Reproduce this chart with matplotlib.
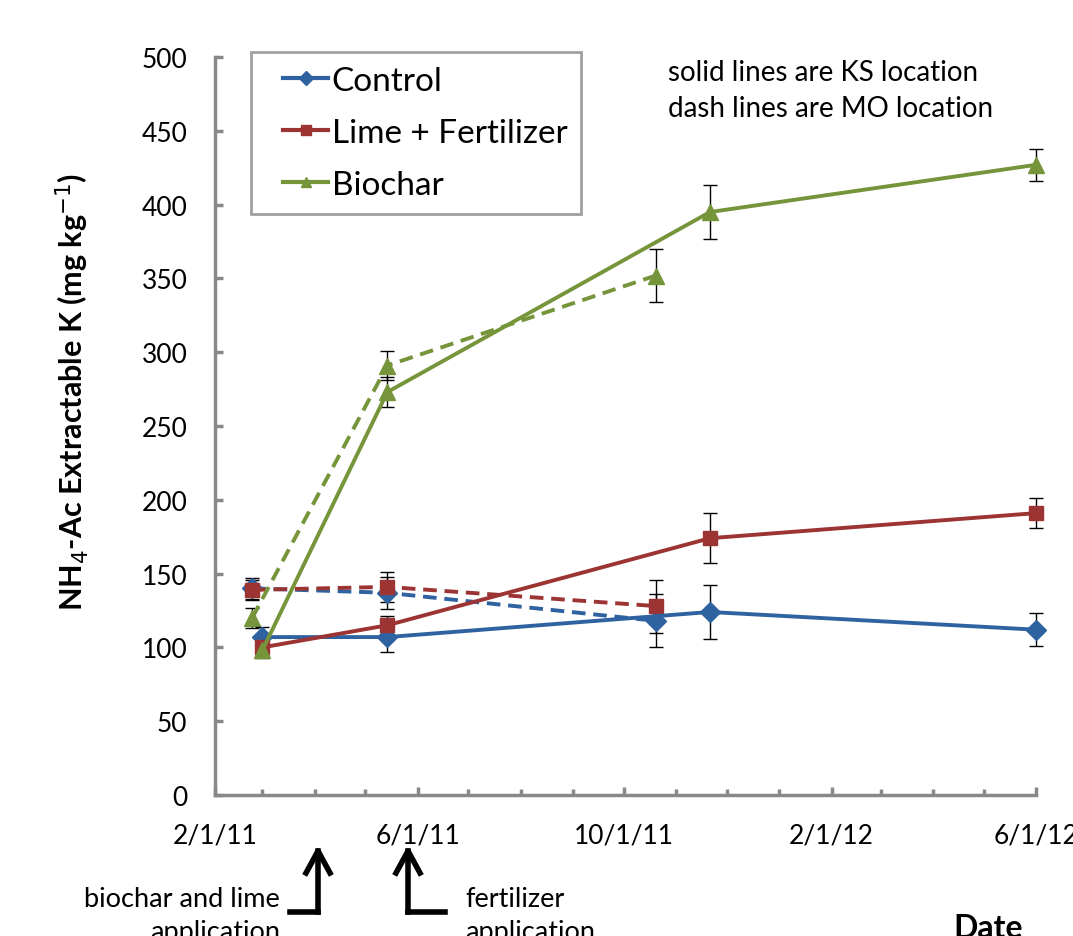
import datetime
import matplotlib
matplotlib.use("Agg")
import matplotlib.pyplot as plt
import matplotlib.dates as mdates
from matplotlib.ticker import FuncFormatter, MultipleLocator
from matplotlib.lines import Line2D
from matplotlib.legend_handler import HandlerLine2D

plt.rcParams["font.family"] = ["Lato", "DejaVu Sans"]

# sampling dates
ks_dates = ["2011-03-01", "2011-05-14", "2011-11-21", "2012-06-01"]
mo_dates = ["2011-02-23", "2011-05-14", "2011-10-20"]

# KS location (solid lines)
ks_control = [107, 107, 124, 112]
ks_control_err = [7, 10, 18, 11]
ks_lime = [100, 115, 174, 191]
ks_lime_err = [5, 6, 17, 10]
ks_biochar = [98, 273, 395, 427]
ks_biochar_err = [5, 10, 18, 11]

# MO location (dashed lines)
mo_control = [140, 137, 118]
mo_control_err = [7, 11, 18]
mo_lime = [139, 141, 128]
mo_lime_err = [7, 10, 18]
mo_biochar = [120, 291, 352]
mo_biochar_err = [7, 10, 18]

labels = ["Control", "Lime + Fertilizer", "Biochar"]
colors = ["#2f62a0", "#9b3432", "#76953b"]
markers = ["D", "s", "^"]
msizes = [10, 10, 11]


def to_num(dates):
    return mdates.date2num([datetime.datetime.strptime(d, "%Y-%m-%d") for d in dates])


x_ks = to_num(ks_dates)
x_mo = to_num(mo_dates)

fig = plt.figure(figsize=(10.73, 9.37), dpi=100)
ax = fig.add_axes([0.2004, 0.1505, 0.7651, 0.7875])

ks_series = [(ks_control, ks_control_err), (ks_lime, ks_lime_err), (ks_biochar, ks_biochar_err)]
mo_series = [(mo_control, mo_control_err), (mo_lime, mo_lime_err), (mo_biochar, mo_biochar_err)]

# dashed first so solid lines sit on top
for (vals, err), c, m, ms in zip(mo_series, colors, markers, msizes):
    ax.errorbar(x_mo, vals, yerr=err, color=c, ecolor="black", elinewidth=1,
                capsize=5, capthick=1, lw=2.8, ls=(0, (3.5, 2)), marker=m, ms=ms,
                mec=c, clip_on=False, zorder=3)
for (vals, err), c, m, ms in zip(ks_series, colors, markers, msizes):
    ax.errorbar(x_ks, vals, yerr=err, color=c, ecolor="black", elinewidth=1,
                capsize=5, capthick=1, lw=2.8, ls="-", marker=m, ms=ms,
                mec=c, clip_on=False, zorder=4)

ax.set_xlim(mdates.date2num(datetime.datetime(2011, 2, 1)),
            mdates.date2num(datetime.datetime(2012, 6, 1)))
ax.set_ylim(0, 500)

ax.yaxis.set_major_locator(MultipleLocator(50))
ax.xaxis.set_major_locator(mdates.MonthLocator(bymonth=[2, 6, 10]))
ax.xaxis.set_minor_locator(mdates.MonthLocator())


def fmt_date(v, pos):
    d = mdates.num2date(v)
    return f"{d.month}/{d.day}/{d.strftime('%y')}"


ax.xaxis.set_major_formatter(FuncFormatter(fmt_date))

for s in ["top", "right"]:
    ax.spines[s].set_visible(False)
for s in ["left", "bottom"]:
    ax.spines[s].set_color("#888888")
    ax.spines[s].set_linewidth(2.5)

ax.tick_params(axis="both", which="major", direction="in", color="#888888",
               width=2.5, length=6, labelsize=19, pad=20)
ax.tick_params(axis="x", which="minor", direction="in", color="#888888",
               width=2.5, length=4)

fig.text(72 / 1073, 1 - 392 / 937, r"NH$_4$-Ac Extractable K (mg kg$^{-1}$)",
         rotation=90, ha="center", va="center", fontsize=22, fontweight="bold")

handles = [Line2D([], [], color=c, marker=m, ms=7, lw=3)
           for c, m in zip(colors, markers)]
leg = fig.legend(handles, labels, loc="upper left", bbox_to_anchor=(251 / 1073, 1 - 53 / 937),
                 fontsize=24, frameon=True, fancybox=False, handlelength=1.9,
                 labelspacing=0.66, borderpad=0.42, handletextpad=0.1, borderaxespad=0,
                 handler_map={Line2D: HandlerLine2D(xpad=0.55)})
leg.get_frame().set_edgecolor("#888888")
leg.get_frame().set_linewidth(2)

fig.text(668 / 1073, 1 - 73 / 937, "solid lines are KS location", fontsize=20, va="center")
fig.text(668 / 1073, 1 - 109 / 937, "dash lines are MO location", fontsize=20, va="center")

# application arrows below the axis
fig.text(280 / 1073, 1 - 916 / 937, "biochar and lime\napplication", ha="right", va="center",
         fontsize=19.5, linespacing=1.4, multialignment="right")
fig.text(465 / 1073, 1 - 916 / 937, "fertilizer\napplication", ha="left", va="center",
         fontsize=19.5, linespacing=1.4)
fig.add_artist(Line2D([290 / 1073, 318 / 1073], [1 - 913 / 937, 1 - 913 / 937],
                      color="black", lw=4, transform=fig.transFigure))
fig.add_artist(Line2D([408 / 1073, 445 / 1073], [1 - 913 / 937, 1 - 913 / 937],
                      color="black", lw=4, transform=fig.transFigure))
for xa in [318, 408]:
    fig.add_artist(Line2D([xa / 1073, xa / 1073], [1 - 913 / 937, 1 - 852 / 937],
                          color="black", lw=4, transform=fig.transFigure))
    fig.add_artist(Line2D([(xa - 12) / 1073, xa / 1073, (xa + 12) / 1073],
                          [1 - 874 / 937, 1 - 852 / 937, 1 - 874 / 937],
                          color="black", lw=4, transform=fig.transFigure))

fig.text(988 / 1073, 1 - 914 / 937, "Date", ha="center", va="top",
         fontsize=23, fontweight="bold")

fig.savefig("out.png", dpi=100)
